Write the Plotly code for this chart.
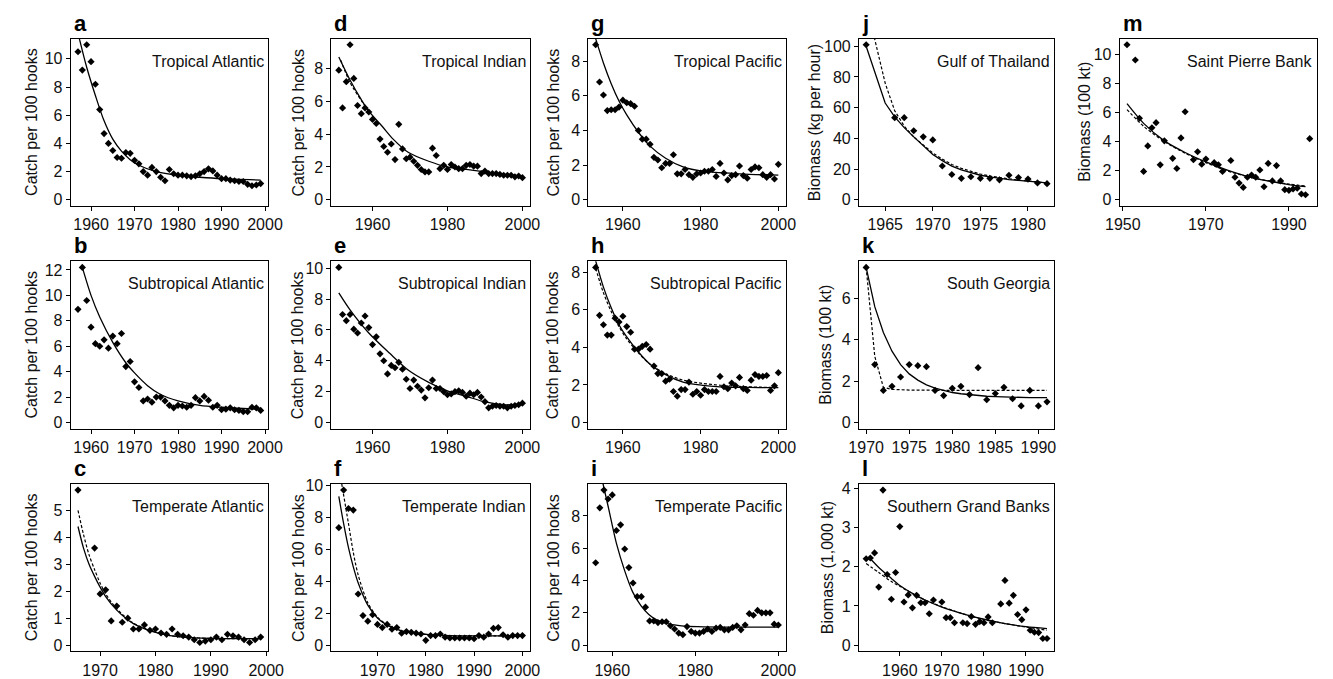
import plotly.graph_objects as go

W, H = 1333, 679

# ---- a  Tropical Atlantic
a_yr = list(range(1957, 2000))
a_val = [10.5, 9.2, 11.0, 9.8, 8.2, 6.4, 4.7, 4.0, 3.5, 3.0, 2.95, 3.35, 3.3, 2.8, 2.55,
         2.0, 1.75, 2.3, 2.0, 1.6, 1.35, 2.15, 1.85, 1.75, 1.75, 1.7, 1.65, 1.7, 1.85,
         2.0, 2.2, 2.05, 1.75, 1.5, 1.5, 1.4, 1.35, 1.3, 1.3, 1.1, 1.0, 1.05, 1.15]
a_fit_yr = [1957.3, 1959, 1961, 1963, 1965, 1967, 1969, 1971, 1975, 1981, 1985, 1990, 1999]
a_fit = [11.45, 9.4, 7.4, 5.6, 4.3, 3.45, 2.85, 2.45, 2.0, 1.7, 1.6, 1.5, 1.4]

# ---- b  Subtropical Atlantic
b_yr = list(range(1957, 2000))
b_val = [8.9, 12.2, 9.6, 7.5, 6.2, 6.0, 6.5, 5.85, 6.8, 6.2, 7.0, 4.4, 4.8, 3.2, 2.75,
         1.7, 1.85, 1.6, 2.0, 2.0, 1.7, 1.35, 1.15, 1.35, 1.3, 1.2, 1.35, 1.95, 1.7, 2.05,
         1.75, 1.2, 1.35, 1.0, 1.05, 1.15, 1.0, 0.95, 0.85, 0.85, 1.2, 1.15, 0.95]
b_fit_yr = [1958, 1960, 1962, 1965, 1968, 1970, 1973, 1976, 1980, 1985, 1990, 1995, 1999]
b_fit = [12.2, 10.0, 8.3, 6.3, 4.7, 3.9, 2.9, 2.2, 1.7, 1.35, 1.2, 1.1, 1.05]

# ---- c  Temperate Atlantic
c_yr = [1966] + list(range(1969, 2000))
c_val = [5.75, 3.6, 1.9, 2.05, 0.9, 1.45, 0.85, 1.0, 0.6, 0.6, 0.75, 0.55, 0.6, 0.45,
         0.4, 0.6, 0.4, 0.35, 0.3, 0.2, 0.1, 0.15, 0.2, 0.3, 0.2, 0.4, 0.35, 0.3,
         0.2, 0.1, 0.2, 0.3]
c_fit_yr = [1966, 1967, 1968, 1969, 1970, 1971, 1973, 1976, 1981, 1985, 1990, 1999]
c_fit = [4.4, 3.6, 3.0, 2.55, 2.15, 1.8, 1.3, 0.8, 0.42, 0.3, 0.25, 0.24]
c_dash_yr = [1966, 1967, 1968, 1969, 1970, 1971, 1973, 1976, 1981, 1985, 1990, 1999]
c_dash = [5.0, 4.1, 3.35, 2.8, 2.3, 1.9, 1.35, 0.82, 0.42, 0.3, 0.25, 0.24]

# ---- d  Tropical Indian
d_yr = list(range(1951, 2001))
d_val = [7.9, 5.6, 7.2, 9.45, 7.4, 5.75, 5.25, 5.6, 5.35, 4.9, 4.65, 3.7, 3.25, 2.9,
         3.4, 2.45, 4.6, 3.1, 2.5, 2.6, 2.35, 2.1, 1.85, 1.7, 1.7, 3.15, 2.7, 1.9, 2.1,
         1.85, 2.15, 2.0, 1.9, 1.9, 2.1, 2.15, 2.05, 2.05, 1.6, 1.75, 1.6, 1.6, 1.6, 1.55,
         1.5, 1.5, 1.5, 1.4, 1.45, 1.35]
d_fit_yr = [1951, 1954, 1957, 1959, 1962.5, 1965.5, 1969.5, 1975, 1980, 1985, 1990, 1995, 2000]
d_fit = [8.7, 7.3, 6.1, 5.4, 4.5, 3.7, 2.9, 2.35, 2.0, 1.85, 1.7, 1.55, 1.45]
d_dash_yr = [1951.5, 1954, 1957, 1959]
d_dash = [8.5, 7.15, 6.05, 5.38]

# ---- e  Subtropical Indian
e_yr = list(range(1951, 2001))
e_val = [10.05, 7.0, 6.6, 7.0, 6.05, 5.8, 6.45, 6.9, 6.15, 5.05, 5.55, 4.45, 4.0, 3.15,
         3.7, 3.55, 3.9, 3.45, 2.8, 2.2, 2.75, 2.35, 2.1, 1.6, 2.25, 2.75, 2.2, 2.2, 2.0,
         1.8, 1.85, 2.0, 2.05, 1.95, 1.7, 1.9, 1.8, 1.95, 1.65, 1.35, 0.95, 1.05, 1.1, 1.05,
         1.05, 0.95, 1.05, 1.1, 1.15, 1.25]
e_fit_yr = [1951, 1954, 1959, 1964.5, 1969.5, 1975, 1980, 1985, 1990, 1995, 2000]
e_fit = [8.4, 7.3, 5.8, 4.5, 3.4, 2.6, 2.05, 1.7, 1.33, 1.15, 1.2]

# ---- f  Temperate Indian
f_yr = list(range(1962, 2001))
f_val = [7.35, 9.7, 8.55, 8.45, 3.2, 1.85, 1.5, 1.9, 1.3, 1.1, 1.3, 1.0, 1.1, 0.75,
         0.85, 0.8, 0.75, 0.7, 0.3, 0.6, 0.6, 0.7, 0.5, 0.45, 0.45, 0.45, 0.45, 0.45, 0.4,
         0.6, 0.5, 0.7, 1.05, 1.1, 0.65, 0.5, 0.6, 0.6, 0.6]
f_fit_yr = [1962, 1963, 1964, 1965, 1966, 1968, 1970, 1972, 1975, 1980, 1985, 1990, 2000]
f_fit = [9.3, 7.6, 6.1, 4.9, 3.9, 2.5, 1.7, 1.25, 0.9, 0.68, 0.6, 0.58, 0.58]
f_dash_yr = [1962.6, 1964, 1965, 1966, 1968, 1970, 1972, 1975, 1980, 1985, 1990, 2000]
f_dash = [10.1, 7.6, 5.8, 4.4, 2.65, 1.75, 1.28, 0.9, 0.68, 0.6, 0.58, 0.58]

# ---- g  Tropical Pacific
g_yr = list(range(1953, 2001))
g_val = [8.95, 6.8, 6.05, 5.15, 5.2, 5.2, 5.35, 5.75, 5.6, 5.55, 5.4, 4.0, 3.5, 3.5,
         3.2, 2.45, 2.3, 1.85, 2.1, 2.1, 2.6, 1.5, 1.5, 1.75, 1.45, 1.3, 1.5, 1.55,
         1.65, 1.65, 1.75, 1.35, 2.1, 1.55, 1.15, 1.4, 1.45, 1.95, 1.4, 1.25, 1.75, 1.9,
         1.85, 1.45, 1.3, 1.45, 1.2, 2.05]
g_fit_yr = [1953, 1955, 1957, 1959, 1961, 1964, 1967, 1971, 1975.5, 1980.5, 1990, 2000]
g_fit = [9.3, 7.9, 6.7, 5.7, 4.9, 3.9, 3.1, 2.4, 1.9, 1.65, 1.5, 1.42]

# ---- h  Subtropical Pacific
h_yr = list(range(1953, 2001))
h_val = [8.25, 5.7, 5.2, 4.65, 4.65, 5.55, 5.35, 5.65, 5.1, 4.8, 3.9, 3.9, 4.05, 4.15,
         3.9, 3.0, 2.6, 2.6, 2.2, 2.3, 1.65, 1.4, 1.75, 1.75, 2.15, 1.5, 1.65, 1.45, 1.75,
         1.65, 1.65, 1.65, 2.45, 1.9, 1.8, 2.1, 1.95, 2.4, 1.8, 1.7, 2.25, 2.55, 2.45,
         2.45, 2.5, 1.7, 1.95, 2.65]
h_fit_yr = [1953, 1955, 1957, 1959, 1961, 1964, 1967, 1971, 1975.5, 1980.5, 1985, 1990, 1995, 2000]
h_fit = [8.6, 7.2, 6.1, 5.2, 4.55, 3.75, 3.1, 2.55, 2.15, 1.98, 1.9, 1.87, 1.86, 1.85]
h_dash_yr = [1953, 1955, 1957, 1959, 1961, 1964, 1967, 1971, 1975.5, 1980.5, 1985, 1990, 1995, 2000]
h_dash = [8.2, 6.9, 5.9, 5.1, 4.45, 3.7, 3.1, 2.6, 2.25, 2.08, 1.98, 1.92, 1.88, 1.86]

# ---- i  Temperate Pacific
i_yr = list(range(1956, 2001))
i_val = [5.1, 8.5, 9.6, 9.05, 9.3, 7.1, 7.45, 5.95, 4.8, 3.85, 3.0, 3.0, 2.35, 1.5, 1.5,
         1.4, 1.45, 1.45, 1.2, 1.0, 0.75, 0.65, 1.15, 0.85, 0.75, 0.75, 0.85, 1.0, 0.85,
         1.05, 1.1, 0.95, 0.95, 1.1, 1.2, 0.95, 1.25, 1.95, 1.85, 2.15, 2.0, 2.0, 2.0,
         1.3, 1.25]
i_fit_yr = [1957.5, 1959, 1961, 1963, 1964.9, 1966.9, 1968.8, 1970.8, 1973.8, 1976.7, 1980.6, 1990.3, 2000]
i_fit = [10.3, 8.6, 6.3, 4.6, 3.3, 2.45, 1.9, 1.55, 1.3, 1.2, 1.15, 1.12, 1.12]

# ---- j  Gulf of Thailand
j_yr = [1963] + list(range(1966, 1983))
j_val = [101, 53.5, 53.5, 45, 41, 39, 22, 16.5, 14, 15, 14, 14, 13, 16, 14.5, 13.5, 11, 10.5]
j_fit_yr = list(range(1963, 1983))
j_fit = [100, 82, 63, 54, 47, 41, 35, 29.5, 25.5, 22, 19.5, 17.5, 16, 15, 14, 13.2,
         12.6, 12, 11.5, 11]
j_dash_yr = list(range(1963, 1983))
j_dash = [128, 103, 76, 58, 48, 41, 35.5, 30.5, 26.5, 23, 20.5, 18.5, 16.8, 15.5, 14.5,
          13.5, 12.8, 12.2, 11.6, 11.1]

# ---- k  South Georgia
k_yr = list(range(1970, 1992))
k_val = [7.5, 2.8, 1.55, 1.75, 2.2, 2.8, 2.75, 2.7, 1.55, 1.3, 1.65, 1.75, 1.35, 2.65,
         1.1, 1.4, 1.7, 1.15, 0.8, 1.55, 0.8, 1.0]
k_fit_yr = list(range(1970, 1992))
k_fit = [7.5, 5.6, 4.35, 3.45, 2.8, 2.35, 2.05, 1.82, 1.66, 1.54, 1.45, 1.39, 1.34, 1.3,
         1.27, 1.25, 1.23, 1.22, 1.21, 1.2, 1.2, 1.2]
k_dash_yr = [1970, 1971, 1972, 1973, 1975, 1980, 1991]
k_dash = [7.5, 3.2, 1.7, 1.6, 1.57, 1.55, 1.55]

# ---- l  Southern Grand Banks
l_yr = [1952, 1953, 1954, 1955, 1956, 1957, 1958, 1959, 1960, 1961, 1962, 1963, 1964,
        1965, 1966, 1967, 1968, 1970, 1971, 1972, 1973, 1975, 1976, 1977, 1978, 1979,
        1980, 1981, 1982, 1984, 1985, 1986, 1987, 1988, 1989, 1990, 1991, 1992, 1993,
        1994, 1995]
l_val = [2.2, 2.22, 2.35, 1.48, 3.95, 1.8, 1.17, 1.85, 3.02, 1.1, 1.28, 0.95, 1.27, 1.08,
         1.08, 0.8, 1.15, 1.1, 0.7, 0.7, 0.57, 0.57, 0.55, 0.73, 0.53, 0.6, 0.57, 0.72,
         0.57, 1.05, 1.65, 1.07, 1.27, 0.78, 0.65, 0.9, 0.38, 0.33, 0.32, 0.17, 0.17]
l_fit_yr = [1953, 1955, 1958, 1960, 1963, 1966, 1970, 1975, 1980, 1985, 1990, 1995]
l_fit = [2.2, 1.98, 1.7, 1.52, 1.32, 1.15, 0.97, 0.8, 0.66, 0.55, 0.47, 0.42]
l_dash_yr = [1952, 1955, 1958, 1960, 1965, 1970, 1975, 1980, 1985, 1990, 1995]
l_dash = [2.08, 1.85, 1.62, 1.5, 1.2, 0.98, 0.8, 0.65, 0.55, 0.46, 0.38]

# ---- m  Saint Pierre Bank
m_yr = [1951, 1953, 1954, 1955, 1956, 1957, 1958, 1959, 1960, 1962, 1963, 1964, 1965,
        1967, 1968, 1969, 1970, 1972, 1973, 1974, 1976, 1977, 1978, 1979, 1980, 1981,
        1982, 1983, 1984, 1985, 1986, 1987, 1988, 1989, 1990, 1991, 1992, 1993, 1994, 1995]
m_val = [10.65, 9.6, 5.6, 1.95, 3.7, 4.95, 5.3, 2.4, 4.05, 2.85, 2.15, 4.25, 6.05, 2.75,
         3.3, 2.45, 2.8, 2.55, 2.4, 1.95, 2.7, 1.55, 1.15, 0.85, 1.55, 1.7, 1.55, 2.05,
         0.9, 2.5, 1.3, 2.35, 1.3, 0.7, 0.65, 0.75, 0.8, 0.4, 0.35, 4.2]
m_fit_yr = [1951, 1955, 1960, 1965, 1970, 1975, 1980, 1985, 1990, 1994]
m_fit = [6.6, 5.25, 4.05, 3.25, 2.6, 2.05, 1.6, 1.3, 1.05, 0.9]
m_dash_yr = [1951, 1955, 1960, 1965, 1970, 1975, 1980, 1985, 1990, 1994]
m_dash = [6.2, 5.05, 4.0, 3.2, 2.55, 2.0, 1.6, 1.3, 1.08, 0.95]

catch = "Catch per 100 hooks"
panels = [
    ("a", "Tropical Atlantic", catch, a_yr, a_val, a_fit_yr, a_fit, None, None),
    ("b", "Subtropical Atlantic", catch, b_yr, b_val, b_fit_yr, b_fit, None, None),
    ("c", "Temperate Atlantic", catch, c_yr, c_val, c_fit_yr, c_fit, c_dash_yr, c_dash),
    ("d", "Tropical Indian", catch, d_yr, d_val, d_fit_yr, d_fit, d_dash_yr, d_dash),
    ("e", "Subtropical Indian", catch, e_yr, e_val, e_fit_yr, e_fit, None, None),
    ("f", "Temperate Indian", catch, f_yr, f_val, f_fit_yr, f_fit, f_dash_yr, f_dash),
    ("g", "Tropical Pacific", catch, g_yr, g_val, g_fit_yr, g_fit, None, None),
    ("h", "Subtropical Pacific", catch, h_yr, h_val, h_fit_yr, h_fit, h_dash_yr, h_dash),
    ("i", "Temperate Pacific", catch, i_yr, i_val, i_fit_yr, i_fit, None, None),
    ("j", "Gulf of Thailand", "Biomass (kg per hour)", j_yr, j_val, j_fit_yr, j_fit, j_dash_yr, j_dash),
    ("k", "South Georgia", "Biomass (100 kt)", k_yr, k_val, k_fit_yr, k_fit, k_dash_yr, k_dash),
    ("l", "Southern Grand Banks", "Biomass (1,000 kt)", l_yr, l_val, l_fit_yr, l_fit, l_dash_yr, l_dash),
    ("m", "Saint Pierre Bank", "Biomass (100 kt)", m_yr, m_val, m_fit_yr, m_fit, m_dash_yr, m_dash),
]

# pixel boxes of each frame: left, right, top, bottom
box = {
    "a": (57, 259, 32, 202), "b": (57, 259, 258, 428), "c": (57, 259, 484, 654),
    "d": (324, 527, 32, 202), "e": (324, 527, 258, 428), "f": (324, 527, 484, 654),
    "g": (587, 789, 32, 202), "h": (587, 789, 258, 428), "i": (587, 789, 484, 654),
    "j": (864, 1064, 32, 202), "k": (864, 1064, 258, 428), "l": (864, 1064, 484, 654),
    "m": (1131, 1333, 32, 202),
}
ylab_x = {"a": 17, "b": 17, "c": 17, "d": 290, "e": 290, "f": 290,
          "g": 551, "h": 551, "i": 551, "j": 818, "k": 830, "l": 832, "m": 1095}
xstep = {"a": 10, "b": 10, "c": 10, "d": 20, "e": 20, "f": 10, "g": 20, "h": 20,
         "i": 20, "j": 5, "k": 5, "l": 10, "m": 20}
xstart = {"m": 10}
ystep = {"a": 2, "b": 2, "c": 1, "d": 2, "e": 2, "f": 2, "g": 2, "h": 2, "i": 2,
         "j": 20, "k": 2, "l": 1, "m": 2}
linear = {"j", "k"}

FONT = "Liberation Sans, Arial, Helvetica, sans-serif"
axstyle = dict(showline=True, mirror=True, linecolor="black", linewidth=1,
               ticks="outside", ticklen=4, tickwidth=1, tickcolor="black",
               showgrid=False, zeroline=False,
               tickfont=dict(family=FONT, size=16, color="#111"))

fig = go.Figure()
annots = []
for n, (tag, name, ylab, yrs, vals, fx, fy, dx, dy) in enumerate(panels, start=1):
    sfx = "" if n == 1 else str(n)
    x0, x1, top, bot = box[tag]
    span = max(yrs) - min(yrs)
    ymax = max(vals)
    shape = "linear" if tag in linear else "spline"

    if dx is not None:
        fig.add_trace(go.Scatter(x=dx, y=dy, mode="lines", xaxis="x" + sfx, yaxis="y" + sfx,
                                 line=dict(color="black", width=1.2, dash="3px,2px",
                                           shape="linear" if tag == "k" else shape,
                                           smoothing=0.8)))
    fig.add_trace(go.Scatter(x=fx, y=fy, mode="lines", xaxis="x" + sfx, yaxis="y" + sfx,
                             line=dict(color="black", width=1.3, shape=shape, smoothing=0.8)))
    fig.add_trace(go.Scatter(x=yrs, y=vals, mode="markers", xaxis="x" + sfx, yaxis="y" + sfx,
                             cliponaxis=False,
                             marker=dict(symbol="diamond", size=5.5, color="black")))

    fig.layout["xaxis" + sfx] = dict(domain=[x0 / W, x1 / W], anchor="y" + sfx,
                                     range=[min(yrs) - 0.04 * span, max(yrs) + 0.04 * span],
                                     dtick=xstep[tag], tick0=xstart.get(tag, 0), **axstyle)
    fig.layout["yaxis" + sfx] = dict(domain=[1 - bot / H, 1 - top / H], anchor="x" + sfx,
                                     range=[-0.04 * ymax, 1.04 * ymax],
                                     dtick=ystep[tag], tick0=0, **axstyle)

    annots.append(dict(text="<b>%s</b>" % tag, xref="paper", yref="paper",
                       x=(x0 + 1) / W, y=1 - (top - 1) / H, xanchor="left", yanchor="bottom",
                       showarrow=False, font=dict(family=FONT, size=22, color="black")))
    annots.append(dict(text=name, xref="paper", yref="paper",
                       x=(x1 - 2) / W, y=1 - (top + 23) / H, xanchor="right", yanchor="middle",
                       showarrow=False, font=dict(family=FONT, size=16, color="#111")))
    annots.append(dict(text=ylab, xref="paper", yref="paper", textangle=-90,
                       x=ylab_x[tag] / W, y=1 - (top + bot) / 2 / H,
                       xanchor="center", yanchor="middle",
                       showarrow=False, font=dict(family=FONT, size=16, color="#111")))

fig.update_layout(width=W, height=H, margin=dict(l=0, r=0, t=0, b=0),
                  paper_bgcolor="white", plot_bgcolor="white",
                  showlegend=False, annotations=annots,
                  font=dict(family=FONT))

fig.write_html("out.html", config={"displayModeBar": False},
               post_script="document.body.style.margin='0px';")
